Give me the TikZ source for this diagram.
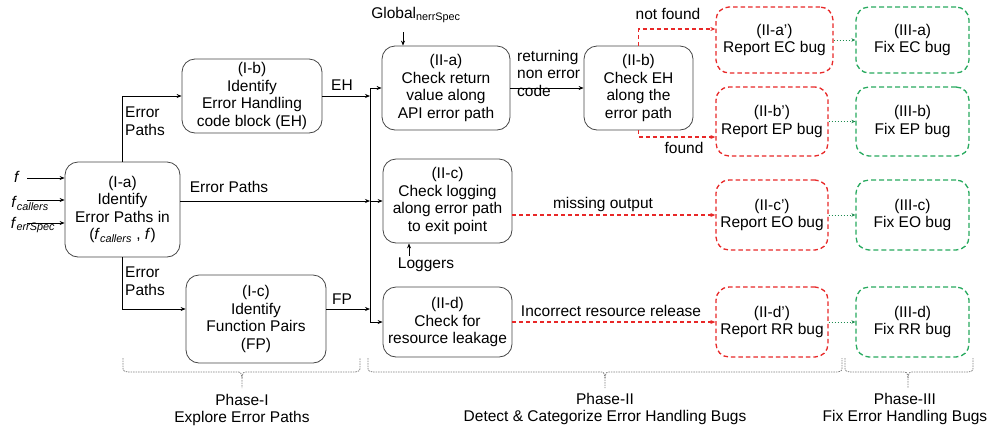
\documentclass[tikz,border=0pt]{standalone}
\usepackage{fontspec}
\setmainfont{Liberation Sans}
\usetikzlibrary{arrows.meta}
\newcommand\fsub[1]{\textit{f}\textsubscript{\textit{#1}}}
\definecolor{bred}{RGB}{232,40,40}
\definecolor{bgreen}{RGB}{40,170,95}
\definecolor{dgreen}{RGB}{30,140,80}
\definecolor{boxgray}{RGB}{70,70,70}
\begin{document}
\begin{tikzpicture}[x=1pt,y=-1pt,
 every node/.style={font=\fontsize{15.5}{17.5}\selectfont, inner sep=0pt},
 box/.style={draw=boxgray, line width=0.8pt, rounded corners=13pt, align=center, fill=white},
 rbox/.style={box, draw=bred, dash pattern=on 4.5pt off 3pt, line width=1.3pt},
 gbox/.style={box, draw=bgreen, dash pattern=on 5pt off 3pt, line width=1.3pt},
 arr/.style={line width=0.7pt, -{Stealth[length=5pt,width=4pt]}},
 ln/.style={line width=0.7pt},
 rarr/.style={draw=bred, line width=1.2pt, dash pattern=on 4pt off 3pt, -{Stealth[length=5pt,width=4pt]}},
 garr/.style={draw=dgreen, line width=1pt, dotted, -{Stealth[length=4pt,width=3.5pt]}},
 brc/.style={draw=gray, line width=0.8pt, dash pattern=on 1.5pt off 1pt},
 lbl/.style={align=left}
]
\useasboundingbox (0,0) rectangle (987,432);

% Phase I boxes
\node[box, minimum width=115pt, minimum height=95pt] (Ia) at (122.5,209.5) {(I-a)\\Identify\\Error Paths in\\(\fsub{callers} , \textit{f})};
\node[box, minimum width=140pt, minimum height=74pt] (Ib) at (252,96) {(I-b)\\Identify\\Error Handling\\code block (EH)};
\node[box, minimum width=140pt, minimum height=88pt] (Ic) at (256,319) {(I-c)\\Identify\\Function Pairs\\(FP)};

% Phase II boxes
\node[box, minimum width=128pt, minimum height=84pt] (IIa) at (446,88) {(II-a)\\Check return\\value along\\API error path};
\node[box, minimum width=109pt, minimum height=84pt] (IIb) at (638.5,88) {(II-b)\\Check EH\\along the\\error path};
\node[box, minimum width=129pt, minimum height=84pt] (IIc) at (447.5,201) {(II-c)\\Check logging\\along error path\\ to exit point};
\node[box, minimum width=129pt, minimum height=70pt] (IId) at (447.5,322) {(II-d)\\Check for\\resource leakage};

\node[rbox, minimum width=117pt, minimum height=66pt] (IIap) at (774.5,40) {(II-a’)\\Report EC bug};
\node[rbox, minimum width=112pt, minimum height=69pt] (IIbp) at (772,121.5) {(II-b’)\\Report EP bug};
\node[rbox, minimum width=112pt, minimum height=70pt] (IIcp) at (772,215) {(II-c’)\\Report EO bug};
\node[rbox, minimum width=112pt, minimum height=70pt] (IIdp) at (772,322) {(II-d’)\\Report RR bug};

% Phase III boxes
\node[gbox, minimum width=113pt, minimum height=66pt] (IIIa) at (912.5,40) {(III-a)\\Fix EC bug};
\node[gbox, minimum width=113pt, minimum height=69pt] (IIIb) at (912.5,121.5) {(III-b)\\Fix EP bug};
\node[gbox, minimum width=113pt, minimum height=70pt] (IIIc) at (912.5,215) {(III-c)\\Fix EO bug};
\node[gbox, minimum width=113pt, minimum height=70pt] (IIId) at (912.5,322) {(III-d)\\Fix RR bug};

% input labels
\node (fin) at (17,177) {\textit{f}};
\node (fca) at (30,203) {\fsub{callers}};
\node (fes) at (33,225) {\fsub{errSpec}};
\coordinate (c1) at (27,178);
\coordinate (c2) at (27,200);
\coordinate (c3) at (27,223);
\draw[arr] (c1) -- (c1 -| Ia.west);
\draw[arr] (c2) -- (c2 -| Ia.west);
\draw[arr] (c3) -- (c3 -| Ia.west);

% labels
\node[lbl, anchor=west] (ep1) at (125,121) {Error\\Paths};
\node[lbl, anchor=west] (ep3) at (125,281) {Error\\Paths};
\node (ep2) at (229,187) {Error Paths};
\node (eh) at (342,85) {EH};
\node (fp) at (342,299) {FP};
\node[lbl, anchor=west] (rnc) at (517,73) {returning\\non error\\code};
\node (nf) at (668,14) {not found};
\node (fd) at (684,148) {found};
\node (mo) at (603,204) {missing output};
\node (irr) at (611,311) {Incorrect resource release};
\node (lg) at (426,265) {Loggers};
\node (gl) at (416,15) {Global\textsubscript{nerrSpec}};

% Phase I connectors
\coordinate (icin) at (Ic.west |- 0,309);
\coordinate (fpl) at (Ic.east |- 0,309);
\draw[arr] (Ia.north) |- (Ib.west);
\draw[arr] (Ia.south) |- (icin);

% bus
\coordinate (bt) at (370,88);
\coordinate (bb) at (370,322);
\draw[ln] (bt) -- (bb);
\draw[arr] (Ib.east) -- (Ib.east -| bt);
\draw[arr] (Ia.east |- IIc.west) -- (IIc.west -| bt);
\draw[arr] (fpl) -- (fpl -| bt);
\draw[arr] (bt) -- (IIa.west);
\draw[arr] (IIc.west -| bt) -- (IIc.west);
\draw[arr] (bb) -- (IId.west);

% side inputs
\coordinate (gs) at (403,32);
\draw[arr] (gs) -- (gs |- IIa.north);
\coordinate (ls) at (409,256);
\draw[arr] (ls) -- (ls |- IIc.south);

% Phase II connectors
\draw[arr] (IIa.east) -- (IIb.west);
\coordinate (nfin) at (IIap.west |- 0,29);
\coordinate (fdin) at (IIbp.west |- 0,137);
\draw[rarr] (IIb.north) |- (nfin);
\draw[rarr] (IIb.south) |- (fdin);
\draw[rarr] (IIc.east |- IIcp.west) -- (IIcp.west);
\draw[rarr] (IId.east) -- (IIdp.west);

% Phase III connectors
\draw[garr] (IIap.east) -- (IIIa.west);
\draw[garr] (IIbp.east) -- (IIIb.west);
\draw[garr] (IIcp.east) -- (IIIc.west);
\draw[garr] (IIdp.east) -- (IIId.west);

% braces
\draw[brc] (123,358) -- (123,366) .. controls (123,371) .. (128,372) -- (236,372) .. controls (241,372) .. (242,378) -- (242,388);
\draw[brc] (242,378) .. controls (243,372) .. (248,372) -- (355,372) .. controls (360,371) .. (360,366) -- (360,358);
\draw[brc] (368,358) -- (368,366) .. controls (368,371) .. (373,372) -- (599,372) .. controls (604,372) .. (605,378) -- (605,388);
\draw[brc] (605,378) .. controls (606,372) .. (611,372) -- (837,372) .. controls (842,371) .. (842,366) -- (842,358);
\draw[brc] (845,358) -- (845,366) .. controls (845,371) .. (850,372) -- (902,372) .. controls (907,372) .. (908,378) -- (908,388);
\draw[brc] (908,378) .. controls (909,372) .. (914,372) -- (968,372) .. controls (973,371) .. (973,366) -- (973,358);

% phase labels
\node[align=center] (ph1) at (242,410) {Phase-I\\Explore Error Paths};
\node[align=center] (ph2) at (605,409) {Phase-II\\Detect \& Categorize Error Handling Bugs};
\node[align=center] (ph3) at (905,409) {Phase-III\\Fix Error Handling Bugs};
\end{tikzpicture}
\end{document}
